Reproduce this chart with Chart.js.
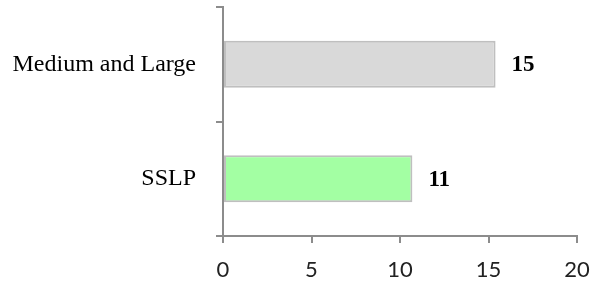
<!DOCTYPE html>
<html>
<head>
<meta charset="utf-8">
<script src="https://cdn.jsdelivr.net/npm/chart.js@4/dist/chart.umd.min.js"></script>
<style>
  html, body { margin: 0; padding: 0; background: #fff; }
  #wrap { width: 599px; height: 284px; position: relative; }
</style>
</head>
<body>
<div id="wrap"><canvas id="c" width="599" height="284"></canvas></div>
<script>
const categories = ['Medium and Large', 'SSLP'];
const values = [15.4, 10.7];
const valueLabels = ['15', '11'];
const barColors = ['#d9d9d9', '#a3ffa3'];
const xTicks = [0, 5, 10, 15, 20];

const valueLabelPlugin = {
  id: 'valueLabels',
  afterDatasetsDraw(chart) {
    const ctx = chart.ctx;
    const meta = chart.getDatasetMeta(0);
    ctx.save();
    ctx.font = 'bold 23px "Liberation Serif", "Times New Roman", serif';
    ctx.fillStyle = '#000';
    ctx.textAlign = 'left';
    ctx.textBaseline = 'middle';
    meta.data.forEach((bar, i) => {
      ctx.fillText(valueLabels[i], bar.x + 16, bar.y + 1);
    });
    ctx.restore();
  }
};

new Chart(document.getElementById('c'), {
  type: 'bar',
  data: {
    labels: categories,
    datasets: [{
      data: values,
      backgroundColor: barColors,
      borderColor: '#bfbfbf',
      borderWidth: 2,
      borderSkipped: false,
      categoryPercentage: 1,
      barPercentage: 0.41
    }]
  },
  options: {
    indexAxis: 'y',
    responsive: false,
    animation: false,
    layout: { padding: { top: 7, right: 22, left: 0, bottom: 0 } },
    plugins: { legend: { display: false }, tooltip: { enabled: false } },
    scales: {
      x: {
        min: 0, max: 20,
        afterBuildTicks(scale) { scale.ticks = xTicks.map(v => ({ value: v })); },
        afterFit(scale) { scale.height = 48; scale.paddingRight = 0; },
        grid: { drawOnChartArea: false, drawTicks: true, tickLength: 7, color: '#8c8c8c', lineWidth: 2 },
        border: { color: '#8c8c8c', width: 2 },
        ticks: {
          color: '#222',
          padding: 14,
          maxRotation: 0,
          font: { family: 'Lato, "Open Sans", sans-serif', size: 22 }
        }
      },
      y: {
        afterFit(scale) { scale.width = 223; scale.paddingTop = 0; scale.paddingBottom = 0; },
        grid: { drawOnChartArea: false, drawTicks: true, tickLength: 7, color: '#8c8c8c', lineWidth: 2, offset: true },
        border: { color: '#8c8c8c', width: 2 },
        ticks: {
          color: '#000',
          padding: 20,
          font: { family: '"Liberation Serif", "Times New Roman", serif', size: 24 }
        }
      }
    }
  },
  plugins: [valueLabelPlugin]
});
</script>
</body>
</html>
